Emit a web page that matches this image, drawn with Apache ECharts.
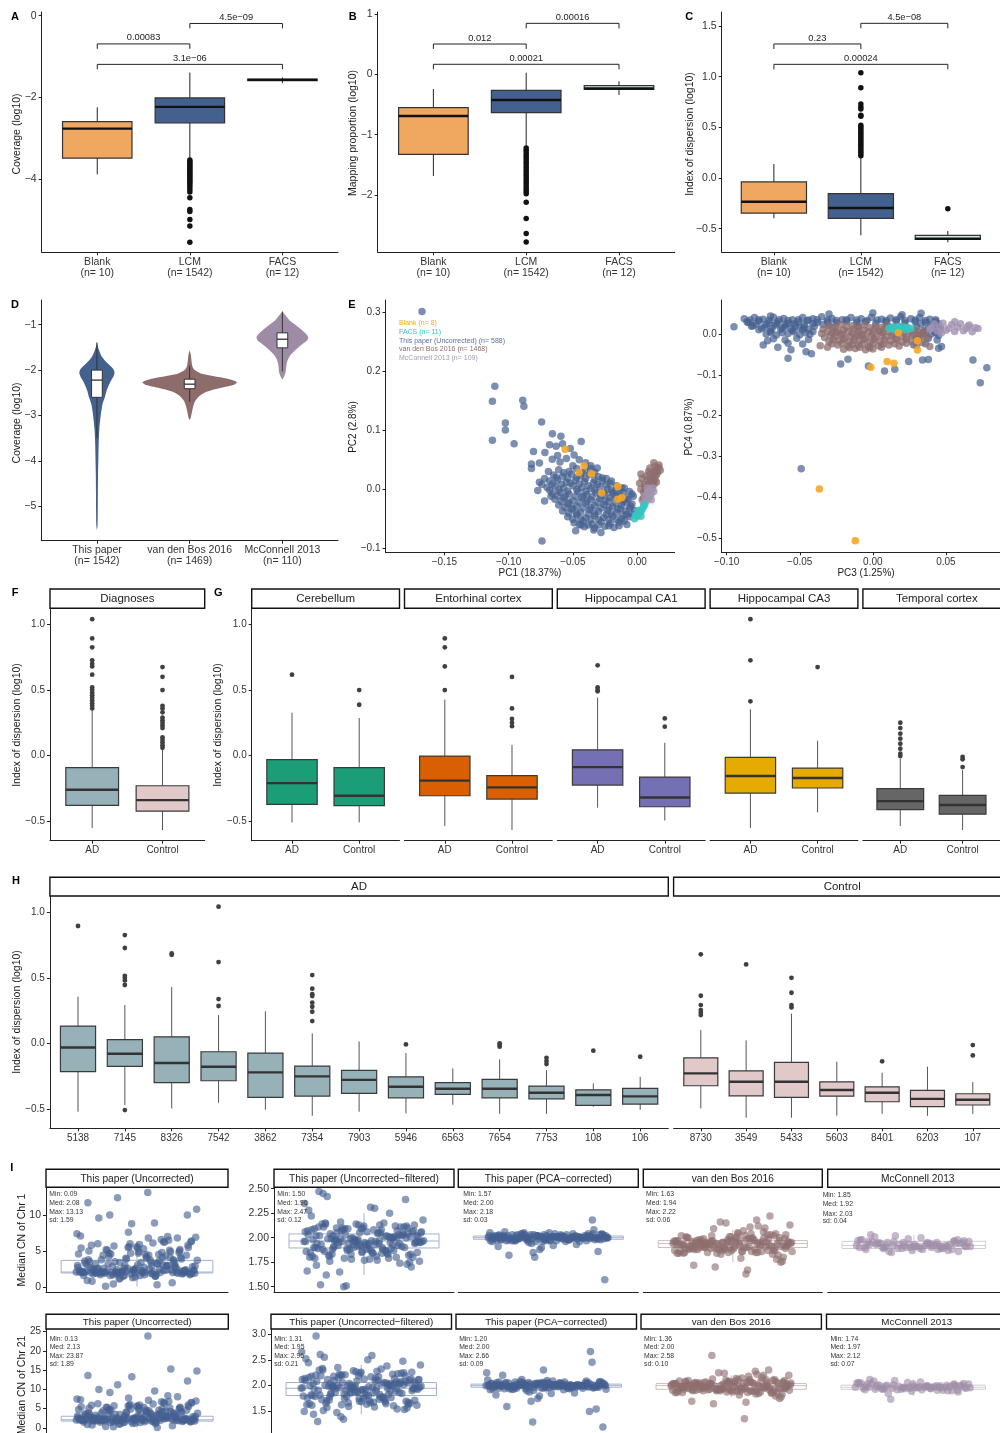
<!DOCTYPE html>
<html><head><meta charset="utf-8"><title>chart</title>
<script src="https://cdn.jsdelivr.net/npm/echarts@6/dist/echarts.min.js"></script>
<style>html,body{margin:0;padding:0;background:#fff;}#c{width:1000px;height:1433px;}</style>
</head><body><div id="c"></div>
<script>
// ================= DATA =================
const abcCats = ['Blank\n(n= 10)', 'LCM\n(n= 1542)', 'FACS\n(n= 12)'];
// [lowerWhisker, Q1, median, Q3, upperWhisker]
const aBox = [[-3.88,-3.48,-2.76,-2.59,-2.24],[-3.51,-2.62,-2.23,-2.01,-1.39],[-1.65,-1.59,-1.57,-1.55,-1.51]];
const aOut = [[2,-3.53],[2,-3.57],[2,-3.61],[2,-3.65],[2,-3.69],[2,-3.73],[2,-3.77],[2,-3.81],[2,-3.85],[2,-3.89],[2,-3.93],[2,-3.97],[2,-4.01],[2,-4.05],[2,-4.09],[2,-4.14],[2,-4.19],[2,-4.25],[2,-4.31],[2,-4.45],[2,-4.74],[2,-4.79],[2,-4.98],[2,-5.14],[2,-5.54]];
const aBrackets = [[1,2,-0.69,-0.81,'0.00083'],[2,3,-0.19,-0.31,'4.5e\u221209'],[1,3,-1.19,-1.31,'3.1e\u221206']];
const bBox = [[-1.686,-1.326,-0.691,-0.553,-0.244],[-1.2,-0.636,-0.426,-0.265,0.027],[-0.343,-0.249,-0.235,-0.189,-0.116]];
const bOut = [[2,-1.22],[2,-1.26],[2,-1.3],[2,-1.34],[2,-1.38],[2,-1.42],[2,-1.46],[2,-1.5],[2,-1.54],[2,-1.58],[2,-1.62],[2,-1.66],[2,-1.7],[2,-1.74],[2,-1.78],[2,-1.82],[2,-1.86],[2,-1.9],[2,-1.94],[2,-1.98],[2,-2.12],[2,-2.39],[2,-2.64],[2,-2.78]];
const bBrackets = [[1,2,0.502,0.42,'0.012'],[2,3,0.845,0.76,'0.00016'],[1,3,0.166,0.083,'0.00021']];
const cBox = [[-0.398,-0.346,-0.234,-0.039,0.138],[-0.566,-0.398,-0.296,-0.155,0.21],[-0.635,-0.605,-0.6,-0.566,-0.523]];
const cOut = [[2,0.22],[2,0.24],[2,0.26],[2,0.28],[2,0.3],[2,0.32],[2,0.34],[2,0.36],[2,0.38],[2,0.4],[2,0.42],[2,0.44],[2,0.46],[2,0.48],[2,0.5],[2,0.52],[2,0.61],[2,0.62],[2,0.68],[2,0.7],[2,0.73],[2,0.89],[2,1.04],[3,-0.303]];
const cBrackets = [[1,2,1.323,1.273,'0.23'],[2,3,1.527,1.478,'4.5e\u221208'],[1,3,1.122,1.073,'0.00024']];

const dCats = ['This paper\n(n= 1542)', 'van den Bos 2016\n(n= 1469)', 'McConnell 2013\n(n= 110)'];
// violin profiles: [y, half-width]
const dViolins = [
  [[-1.39,0],[-1.5,0.013],[-1.6,0.03],[-1.7,0.052],[-1.8,0.09],[-1.9,0.14],[-1.98,0.178],[-2.06,0.19],[-2.14,0.178],[-2.24,0.15],[-2.35,0.124],[-2.45,0.105],[-2.58,0.088],[-2.75,0.06],[-3.0,0.041],[-3.3,0.026],[-3.6,0.019],[-3.9,0.016],[-4.3,0.012],[-4.7,0.01],[-5.1,0.009],[-5.4,0.007],[-5.53,0]],
  [[-1.56,0],[-1.65,0.012],[-1.8,0.02],[-1.92,0.03],[-2.0,0.055],[-2.07,0.115],[-2.12,0.22],[-2.17,0.36],[-2.22,0.46],[-2.27,0.51],[-2.32,0.48],[-2.37,0.38],[-2.43,0.26],[-2.5,0.16],[-2.58,0.1],[-2.68,0.06],[-2.8,0.038],[-2.95,0.022],[-3.05,0.012],[-3.1,0]],
  [[-0.71,0],[-0.8,0.035],[-0.9,0.075],[-1.0,0.14],[-1.1,0.2],[-1.2,0.255],[-1.28,0.279],[-1.36,0.26],[-1.45,0.2],[-1.55,0.144],[-1.65,0.095],[-1.75,0.063],[-1.85,0.047],[-1.95,0.04],[-2.05,0.035],[-2.13,0.022],[-2.21,0]]
];
const dBox = [[-3.5,-2.6,-2.22,-2.0,-1.39],[-2.7,-2.41,-2.31,-2.2,-1.9],[-2.03,-1.51,-1.32,-1.18,-0.71]];

const eLegend = ['Blank (n= 8)','FACS (n= 11)','This paper (Uncorrected) (n= 588)','van den Bos 2016 (n= 1468)','McConnell 2013 (n= 109)'];
// PC1 vs PC2
const eL_paper = [[-0.1674,0.302],[-0.1107,0.175],[-0.1126,0.1495],[-0.089,0.151],[-0.0881,0.141],[-0.1025,0.1126],[-0.1025,0.1006],[-0.1126,0.083],[-0.0957,0.0773],[-0.0743,0.1143],[-0.0659,0.0944],[-0.0593,0.0898],[-0.0435,0.0812],[-0.0681,0.0756],[-0.0806,0.0642],[-0.0717,0.0625],[-0.0619,0.0574],[-0.0822,0.0427],[-0.076,0.0444],[-0.0822,0.0352],[-0.0773,-0.0024],[-0.074,-0.088],[-0.0478,-0.0707],[-0.0435,-0.0609],[-0.0337,-0.0695],[-0.0281,-0.0734],
[-0.063,0.073],[-0.058,0.077],[-0.052,0.069],[-0.066,0.051],[-0.06,0.046],[-0.055,0.052],[-0.049,0.058],[-0.045,0.05],[-0.04,0.045],[-0.036,0.04],[-0.031,0.036],[-0.069,0.03],[-0.072,0.018],[-0.074,0.008],[-0.076,0.012],[-0.067,-0.012],[-0.072,-0.02],
[-0.061,0.033],[-0.053,0.03],[-0.047,0.035],[-0.04,0.031],[-0.033,0.029],
[-0.065,0.024],[-0.058,0.022],[-0.051,0.026],[-0.044,0.023],[-0.037,0.025],[-0.03,0.021],[-0.024,0.018],
[-0.068,0.014],[-0.062,0.016],[-0.055,0.012],[-0.048,0.015],[-0.041,0.013],[-0.034,0.011],[-0.027,0.014],[-0.021,0.01],[-0.016,0.006],
[-0.07,0.003],[-0.064,0.005],[-0.057,0.002],[-0.05,0.006],[-0.043,0.003],[-0.036,0.001],[-0.029,0.004],[-0.023,0.0],[-0.017,-0.003],[-0.011,-0.006],
[-0.066,-0.007],[-0.06,-0.005],[-0.053,-0.008],[-0.046,-0.004],[-0.039,-0.009],[-0.032,-0.006],[-0.025,-0.01],[-0.019,-0.007],[-0.013,-0.012],[-0.008,-0.015],
[-0.064,-0.017],[-0.057,-0.015],[-0.05,-0.019],[-0.043,-0.014],[-0.036,-0.018],[-0.029,-0.016],[-0.022,-0.02],[-0.015,-0.017],[-0.009,-0.022],[-0.004,-0.025],
[-0.061,-0.027],[-0.054,-0.025],[-0.047,-0.029],[-0.04,-0.024],[-0.033,-0.028],[-0.026,-0.026],[-0.019,-0.03],[-0.012,-0.027],[-0.006,-0.032],[-0.002,-0.036],
[-0.058,-0.037],[-0.051,-0.034],[-0.044,-0.039],[-0.037,-0.035],[-0.03,-0.038],[-0.023,-0.036],[-0.016,-0.04],[-0.009,-0.037],[-0.004,-0.042],
[-0.054,-0.047],[-0.047,-0.044],[-0.04,-0.049],[-0.033,-0.045],[-0.026,-0.048],[-0.019,-0.046],[-0.012,-0.05],[-0.006,-0.047],
[-0.049,-0.057],[-0.042,-0.054],[-0.035,-0.059],[-0.028,-0.055],[-0.021,-0.058],[-0.014,-0.056],[-0.008,-0.06],
[-0.041,-0.064],[-0.033,-0.066],[-0.025,-0.063],[-0.018,-0.065],
[-0.057,0.028],[-0.043,0.028],[-0.054,0.019],[-0.04,0.018],[-0.027,0.019],[-0.059,0.009],[-0.045,0.009],[-0.031,0.008],[-0.061,-0.001],[-0.047,-0.001],[-0.033,-0.002],[-0.02,-0.002],[-0.056,-0.012],[-0.042,-0.012],[-0.028,-0.011],[-0.017,-0.012],[-0.053,-0.022],[-0.039,-0.021],[-0.025,-0.021],[-0.011,-0.021],[-0.05,-0.032],[-0.036,-0.031],[-0.022,-0.031],[-0.013,-0.033],[-0.047,-0.041],[-0.033,-0.041],[-0.02,-0.042],[-0.008,-0.043],[-0.044,-0.051],[-0.03,-0.051],[-0.016,-0.052],[-0.038,-0.061],[-0.022,-0.062],[-0.006,-0.004],[-0.01,0.002],[-0.003,-0.012],
[-0.05,0.04],[-0.036,0.035],[-0.063,0.02],[-0.047,0.02],[-0.033,0.016],[-0.02,0.014],[-0.066,0.009],[-0.052,0.01],[-0.038,0.006],[-0.024,0.007],[-0.012,0.002],[-0.068,-0.002],[-0.054,-0.003],[-0.04,-0.004],[-0.026,-0.005],[-0.014,-0.008],[-0.004,-0.008],[-0.062,-0.011],[-0.048,-0.012],[-0.035,-0.013],[-0.021,-0.014],[-0.007,-0.018],[-0.059,-0.021],[-0.045,-0.022],[-0.031,-0.022],[-0.017,-0.024],[-0.005,-0.029],[-0.056,-0.031],[-0.042,-0.032],[-0.028,-0.032],[-0.015,-0.034],[-0.053,-0.041],[-0.038,-0.042],[-0.024,-0.043],[-0.011,-0.044],[-0.05,-0.051],[-0.036,-0.052],[-0.022,-0.052],[-0.01,-0.054],[-0.045,-0.06],[-0.03,-0.061],[-0.014,-0.062]];
const eL_vdb = [[0.004,-0.018],[0.006,-0.012],[0.005,-0.005],[0.008,-0.008],[0.007,0.0],[0.009,0.004],[0.006,0.008],[0.01,0.012],[0.008,0.016],[0.011,0.02],[0.013,0.018],[0.012,0.026],[0.014,0.03],[0.015,0.024],[0.016,0.035],[0.014,0.039],[0.017,0.041],[0.013,0.045],[0.016,0.028],[0.011,0.006],[0.012,0.0],[0.01,-0.004],[0.003,0.026],[0.004,0.018],[0.002,0.01],[0.009,0.03],[0.007,0.022],[0.018,0.032],[0.015,0.012],[0.013,0.008],[0.003,0.0],[0.01,0.036],
[0.005,-0.015],[0.007,-0.003],[0.009,0.008],[0.011,0.015],[0.013,0.022],[0.015,0.032],[0.012,0.012],[0.006,0.004],[0.01,0.026],[0.017,0.037],[0.008,0.0],[0.014,0.016]];
const eL_mcc = [[0.006,-0.012],[0.008,-0.006],[0.01,-0.002],[0.009,-0.016],[0.011,-0.008],[0.007,-0.02],[0.012,0.002],[0.005,-0.024],[0.01,-0.012],[0.013,-0.004],[0.008,0.002],[0.011,-0.018]];
const eL_facs = [[-0.002,-0.05],[0.0,-0.046],[0.001,-0.042],[0.003,-0.038],[0.004,-0.034],[0.002,-0.04],[0.005,-0.03],[-0.001,-0.044],[0.003,-0.046],[0.006,-0.026],[0.001,-0.036]];
const eL_blank = [[-0.056,0.068],[-0.0413,0.04],[-0.0451,0.0284],[-0.0356,0.0261],[-0.0275,-0.0063],[-0.015,0.0045],[-0.015,-0.0171],[-0.0118,-0.0143]];
// PC3 vs PC4
const eR_paper = [[-0.088,0.038],[-0.081,0.041],[-0.075,0.037],[-0.068,0.042],[-0.061,0.039],[-0.055,0.036],[-0.048,0.041],[-0.041,0.038],[-0.035,0.043],[-0.028,0.039],[-0.021,0.036],[-0.015,0.041],[-0.008,0.038],[-0.001,0.042],[0.006,0.037],[0.012,0.04],[0.019,0.043],[0.026,0.038],[0.032,0.041],[0.039,0.037],
[-0.085,0.029],[-0.078,0.032],[-0.071,0.028],[-0.065,0.031],[-0.058,0.027],[-0.051,0.03],[-0.045,0.033],[-0.038,0.029],[-0.031,0.031],[-0.025,0.028],[-0.018,0.032],[-0.011,0.029],[-0.005,0.031],[0.002,0.027],[0.009,0.03],[0.016,0.032],[0.022,0.028],[0.029,0.031],[0.036,0.029],[0.043,0.032],
[-0.082,0.021],[-0.074,0.018],[-0.067,0.022],[-0.06,0.019],[-0.053,0.021],[-0.047,0.017],[-0.04,0.02],[-0.03,0.022],[-0.01,0.019],[0.01,0.021],[0.03,0.018],[0.041,0.021],[0.046,0.017],
[-0.078,0.011],[-0.07,0.008],[-0.063,0.012],[-0.055,0.009],[-0.048,0.011],[-0.041,0.007],[0.035,0.01],[0.042,0.008],[0.046,0.012],
[-0.073,0.001],[-0.066,-0.002],[-0.058,0.002],[-0.05,-0.001],[-0.043,0.0],[0.032,-0.002],[0.04,0.001],[0.045,-0.003],
[-0.068,-0.011],[-0.06,-0.014],[-0.052,-0.01],[-0.044,-0.013],[0.03,-0.012],[0.038,-0.01],[0.044,-0.014],
[-0.048,-0.024],[0.028,-0.026],[0.036,-0.023],
[-0.084,0.035],[-0.078,0.036],[-0.071,0.034],[-0.064,0.036],[-0.058,0.034],[-0.051,0.036],[-0.044,0.035],[-0.038,0.036],[-0.031,0.035],[-0.025,0.034],[-0.018,0.036],[-0.011,0.035],[-0.004,0.034],[0.003,0.035],[0.009,0.034],[0.016,0.036],[0.022,0.034],[0.029,0.035],[0.036,0.034],[0.043,0.036],
[-0.08,0.025],[-0.073,0.024],[-0.066,0.026],[-0.06,0.024],[-0.054,0.025],[-0.047,0.024],[-0.041,0.026],[-0.034,0.024],[0.033,0.025],[0.04,0.024],[0.045,0.026],
[-0.076,0.015],[-0.069,0.014],[-0.062,0.016],[-0.056,0.014],[-0.05,0.016],[-0.044,0.013],[0.038,0.015],[0.044,0.014],
[-0.07,0.005],[-0.062,0.004],[-0.054,0.006],[-0.046,0.004],[0.036,0.005],[0.043,0.004],
[-0.095,0.0187],[-0.049,-0.33],[0.0685,-0.063],[0.078,-0.082],[0.0735,-0.119],[-0.058,-0.059],[-0.075,-0.026],[-0.072,-0.016],[-0.065,-0.032],[-0.058,-0.022],[-0.056,-0.038],[-0.0457,-0.043],[-0.042,-0.048],[-0.022,-0.073],[-0.017,-0.061],[-0.003,-0.078],[0.008,-0.09],[0.015,-0.086],[0.0245,-0.067],[0.034,-0.063],[0.038,-0.062],[0.045,-0.034],[0.047,-0.03],[0.0,0.052],[0.033,0.0515],[-0.083,0.02],[-0.086,0.03],[-0.07,0.045],[-0.03,0.05],[0.02,0.048]];
const eR_vdb = [[-0.03,0.022],[-0.022,0.024],[-0.014,0.021],[-0.006,0.023],[0.002,0.02],[0.01,0.022],[0.018,0.019],
[-0.034,0.012],[-0.027,0.014],[-0.02,0.011],[-0.013,0.013],[-0.006,0.01],[0.001,0.012],[0.008,0.014],[0.015,0.011],[0.022,0.013],[0.029,0.01],
[-0.035,0.002],[-0.028,0.004],[-0.021,0.001],[-0.014,0.003],[-0.007,0.0],[0.0,0.002],[0.007,0.004],[0.014,0.001],[0.021,0.003],[0.028,0.0],[0.034,0.002],
[-0.033,-0.008],[-0.026,-0.006],[-0.019,-0.009],[-0.012,-0.007],[-0.005,-0.01],[0.002,-0.008],[0.009,-0.006],[0.016,-0.009],[0.023,-0.007],[0.03,-0.01],[0.037,-0.008],
[-0.03,-0.018],[-0.023,-0.016],[-0.016,-0.019],[-0.009,-0.017],[-0.002,-0.02],[0.005,-0.018],[0.012,-0.016],[0.02,-0.019],[0.027,-0.017],[0.034,-0.02],
[-0.036,-0.028],[-0.024,-0.026],[-0.017,-0.029],[-0.01,-0.027],[-0.003,-0.03],[0.004,-0.028],[0.011,-0.026],[0.018,-0.029],[0.03,-0.027],
[-0.02,-0.037],[-0.012,-0.035],[-0.005,-0.038],[0.0,-0.036],
[-0.031,-0.032],[0.039,-0.03],[0.035,0.006],[-0.025,0.005],[-0.01,-0.001],[0.005,0.007],
[-0.026,0.017],[-0.018,0.018],[-0.01,0.017],[-0.002,0.016],[0.006,0.017],[0.014,0.016],[0.022,0.018],
[-0.031,0.007],[-0.024,0.008],[-0.017,0.006],[-0.01,0.007],[-0.003,0.006],[0.004,0.008],[0.011,0.007],[0.018,0.006],[0.025,0.007],[0.031,0.006],
[-0.029,-0.003],[-0.022,-0.002],[-0.015,-0.004],[-0.008,-0.003],[-0.001,-0.004],[0.006,-0.002],[0.013,-0.003],[0.02,-0.004],[0.027,-0.002],[0.034,-0.004],
[-0.027,-0.013],[-0.02,-0.012],[-0.013,-0.014],[-0.006,-0.013],[0.001,-0.012],[0.008,-0.014],[0.016,-0.013],[0.023,-0.012],[0.031,-0.014],
[-0.028,-0.023],[-0.021,-0.022],[-0.014,-0.024],[-0.007,-0.023],[0.0,-0.022],[0.007,-0.024],[0.015,-0.023],[0.023,-0.022],
[-0.016,-0.033],[-0.009,-0.032],[-0.002,-0.033],[0.006,-0.032]];
const eR_mcc = [[0.042,0.025],[0.048,0.027],[0.054,0.024],[0.06,0.026],[0.066,0.023],[0.04,0.016],[0.046,0.018],[0.052,0.015],[0.058,0.017],[0.064,0.014],[0.07,0.016],[0.044,0.008],[0.05,0.01],[0.056,0.007],[0.062,0.009],[0.068,0.006],[0.072,0.014],[0.056,0.031],[0.039,0.012],[0.047,0.004],[0.065,0.02]];
const eR_facs = [[0.011,0.015],[0.013,0.018],[0.015,0.013],[0.017,0.017],[0.019,0.014],[0.021,0.018],[0.022,0.012],[0.024,0.016],[0.026,0.014],[0.018,0.019],[0.014,0.012]];
const eR_blank = [[0.0175,0.004],[0.0305,-0.0157],[0.0305,-0.0385],[0.0098,-0.067],[0.0144,-0.071],[-0.0014,-0.081],[-0.0366,-0.38],[-0.012,-0.507]];

const fgCats = ['AD','Control'];
const fBox = [[-0.551,-0.379,-0.259,-0.091,0.345],[-0.566,-0.422,-0.338,-0.229,0.045]];
const fOut = [[1,0.36],[1,0.38],[1,0.4],[1,0.42],[1,0.44],[1,0.46],[1,0.48],[1,0.5],[1,0.52],[1,0.617],[1,0.68],[1,0.7],[1,0.726],[1,0.825],[1,0.893],[1,1.04],[2,0.06],[2,0.08],[2,0.1],[2,0.12],[2,0.14],[2,0.21],[2,0.23],[2,0.25],[2,0.27],[2,0.29],[2,0.33],[2,0.36],[2,0.38],[2,0.5],[2,0.601],[2,0.675]];
const gTissues = ['Cerebellum','Entorhinal cortex','Hippocampal CA1','Hippocampal CA3','Temporal cortex'];
const gBox = [
  [[-0.508,-0.371,-0.209,-0.03,0.327],[-0.508,-0.381,-0.305,-0.091,0.287]],
  [[-0.536,-0.305,-0.19,-0.003,0.427],[-0.566,-0.33,-0.241,-0.152,0.081]],
  [[-0.396,-0.224,-0.087,0.045,0.442],[-0.493,-0.389,-0.318,-0.163,0.099]],
  [[-0.551,-0.285,-0.155,-0.013,0.353],[-0.432,-0.246,-0.17,-0.094,0.114]],
  [[-0.536,-0.411,-0.346,-0.251,-0.023],[-0.566,-0.445,-0.376,-0.302,-0.11]]
];
const gOut = [
  [[1,0.617],[2,0.5],[2,0.388]],
  [[1,0.5],[1,0.68],[1,0.825],[1,0.893],[2,0.225],[2,0.25],[2,0.28],[2,0.36],[2,0.6]],
  [[1,0.49],[1,0.5],[1,0.52],[1,0.688],[2,0.221],[2,0.284]],
  [[1,0.414],[1,0.726],[1,1.04],[2,0.675]],
  [[1,-0.003],[1,0.015],[1,0.053],[1,0.091],[1,0.13],[1,0.168],[1,0.21],[1,0.251],[2,-0.087],[2,-0.028],[2,-0.01]]
];

const hADcats = ['5138','7145','8326','7542','3862','7354','7903','5946','6563','7654','7753','108','106'];
const hADbox = [[-0.521,-0.216,-0.031,0.132,0.356],[-0.47,-0.176,-0.079,0.028,0.292],[-0.496,-0.3,-0.15,0.05,0.43],[-0.453,-0.285,-0.178,-0.064,0.216],[-0.506,-0.412,-0.221,-0.074,0.244],[-0.552,-0.402,-0.252,-0.173,0.076],[-0.521,-0.381,-0.278,-0.206,0.015],[-0.534,-0.415,-0.331,-0.255,-0.074],[-0.468,-0.389,-0.346,-0.3,-0.191],[-0.537,-0.415,-0.346,-0.275,-0.122],[-0.537,-0.423,-0.377,-0.326,-0.204],[-0.483,-0.473,-0.394,-0.354,-0.305],[-0.506,-0.463,-0.404,-0.343,-0.255]];
const hADout = [[1,0.895],[2,-0.509],[2,0.445],[2,0.48],[2,0.5],[2,0.515],[2,0.727],[2,0.826],[3,0.686],[3,0.675],[4,0.285],[4,0.338],[4,0.62],[4,1.042],[6,0.17],[6,0.241],[6,0.279],[6,0.31],[6,0.361],[6,0.375],[6,0.417],[6,0.521],[8,-0.008],[10,0.0],[10,-0.012],[10,-0.025],[11,-0.11],[11,-0.135],[11,-0.158],[12,-0.056],[13,-0.102]];
const hCcats = ['8730','3549','5433','5603','8401','6203','107'];
const hCbox = [[-0.496,-0.323,-0.229,-0.11,0.101],[-0.567,-0.4,-0.293,-0.209,0.023],[-0.567,-0.412,-0.293,-0.145,0.226],[-0.552,-0.402,-0.356,-0.293,-0.14],[-0.537,-0.445,-0.377,-0.331,-0.224],[-0.552,-0.483,-0.423,-0.359,-0.178],[-0.537,-0.47,-0.43,-0.384,-0.295]];
const hCout = [[1,0.679],[1,0.363],[1,0.292],[1,0.254],[1,0.234],[1,0.216],[2,0.602],[3,0.5],[3,0.386],[3,0.292],[3,0.274],[5,-0.137],[7,-0.013],[7,-0.092]];

const iTitles = ['This paper (Uncorrected)','This paper (Uncorrected\u2212filtered)','This paper (PCA\u2212corrected)','van den Bos 2016','McConnell 2013'];
const cn1 = [
 [2.1,3.4,1.9,5.2,2.3,0.9,4.1,2.0,6.3,1.7,2.6,3.8,2.2,7.1,1.5,4.7,2.0,3.1,5.8,2.4,1.2,2.9,4.4,2.1,6.8,1.8,3.6,2.5,0.4,5.5,2.0,3.2,4.9,1.6,2.7,6.1,2.2,3.9,1.4,5.0,2.3,12.4,2.8,4.2,1.9,3.3,7.6,2.1,0.3,4.6,2.4,5.9,1.8,3.0,2.0,10.8,3.7,2.6,4.8,1.3,2.2,6.6,3.5,1.7,5.3,2.5,0.6,4.0,2.1,8.9,3.2,1.9,5.6,2.7,4.3,1.1,2.3,13.13,3.8,2.0,6.0,1.6,4.5,2.8,10.0,3.4,2.2,5.1,1.5,7.4,2.9,0.09,4.1,2.4,11.7,3.1,1.8,6.4,2.0,9.6,3.6,2.6,5.4,1.7,10.0,2.3,4.7,0.8,3.0,2.1,6.9,2.5,4.4,1.9,8.8,3.3,2.0,5.7,
  2.0,2.2,1.9,2.4,3.0,4.6,2.1,5.1,1.8,2.6,3.5,6.2,2.0,2.3,4.0,1.7,2.8,5.6,2.1,3.2,2.0,4.4,1.6,2.5,6.5,2.2,3.7,1.9,2.0,5.0,2.4,3.1,4.8,2.1,1.8,2.7,6.0,2.0,3.9,2.3,1.5,4.2,2.2,5.4,2.0,2.9,3.4,1.9,6.8,2.1,2.5,4.7,2.0,3.6,1.7,5.8,2.3,2.0,4.1,2.6,3.0,1.8,5.2,2.2,2.0,3.8,6.3,2.4,1.9,4.5,2.1,2.8,5.5,2.0,3.3,1.6,2.2,4.9,2.5,7.0],
 [1.96,2.05,1.88,2.12,1.92,1.79,2.01,2.08,1.85,1.97,2.14,1.74,1.99,2.03,1.9,2.1,1.83,1.95,2.47,2.0,1.87,2.06,1.93,1.76,2.11,1.98,1.81,2.02,2.16,1.94,1.89,2.45,2.07,1.78,1.96,2.13,1.91,2.04,1.86,1.72,2.0,2.09,1.95,1.84,2.42,2.02,1.97,1.8,2.15,1.92,2.06,1.88,1.52,2.01,1.94,2.18,1.77,1.99,2.39,2.05,1.9,1.83,2.1,1.96,2.31,1.86,2.03,1.93,1.66,2.08,1.98,1.75,2.12,1.89,2.0,1.51,1.95,2.3,1.82,2.04,1.97,2.22,1.87,1.65,2.07,1.92,2.14,1.8,1.99,2.35,1.94,2.02,1.73,2.09,1.9,2.25,1.5,2.01,1.85,1.62,2.11,1.96,2.28,1.88,2.05,1.7,
  1.93,2.02,1.87,2.09,1.96,1.81,2.04,1.9,2.13,1.98,1.84,2.07,1.95,1.78,2.11,1.92,2.0,1.86,2.05,1.97,1.82,2.1,1.94,1.89,2.03,1.76,2.08,1.99,1.91,2.14,1.85,2.01,1.95,1.8,2.06,1.93,2.12,1.88,1.97,2.04,1.83,2.0,1.92,2.09,1.79,1.96,2.02,1.87,2.15,1.94,1.9,2.07,1.84,1.98,2.01,1.77,2.11,1.93,1.89,2.05,1.96,1.81,2.03,1.91,2.08,1.86,1.99,2.13,1.94,1.88,2.0,1.83,2.06,1.97,1.9,2.1,1.85,2.02,1.95,1.79],
 [2.0,2.01,1.99,2.02,1.98,2.03,2.0,1.97,2.04,2.01,1.99,2.0,2.02,1.96,2.03,2.0,1.98,2.05,2.01,1.99,1.94,2.02,2.0,1.97,2.04,2.01,1.98,2.0,2.03,1.99,1.92,2.02,2.0,1.96,2.05,2.01,1.99,2.18,2.02,1.98,2.0,1.95,2.03,2.01,1.97,2.0,1.88,2.02,1.99,2.04,2.0,1.98,2.06,2.01,1.85,2.0,2.02,1.97,1.99,2.03,1.91,2.01,2.0,1.98,2.04,1.82,2.0,2.02,1.99,1.96,2.01,2.08,1.98,2.0,1.93,2.03,1.57,2.01,1.99,2.02,1.9,2.0,1.98,2.05,1.86,2.01,1.97,2.0,1.8,2.02,1.99,2.03,
  2.0,1.98,2.02,2.01,1.99,2.03,1.97,2.0,2.02,1.99,2.01,1.98,2.04,2.0,1.97,2.02,2.01,1.99,2.0,2.03,1.98,2.01,1.96,2.02,2.0,1.99,2.03,2.01,1.98,2.0,2.02,1.97,2.01,1.99,2.04,2.0,1.98,2.02,2.01,1.99,2.0,2.03,1.97,2.01,2.0,1.98,2.02,1.99,2.01,2.0,1.96,2.03,2.0,1.99,2.02,2.01,1.98,2.0,2.04,1.99],
 [1.94,1.9,1.98,1.87,2.01,1.93,1.85,1.96,2.03,1.91,1.88,1.99,1.95,1.84,2.04,1.92,1.97,1.89,2.0,1.86,1.94,2.13,1.9,1.98,1.83,1.95,2.02,1.88,1.93,1.8,2.05,1.96,1.91,2.16,1.87,1.99,1.94,1.78,2.01,1.89,1.95,2.09,1.92,1.86,1.97,2.22,1.9,1.84,2.0,1.93,1.75,1.98,1.91,2.06,1.88,1.95,1.63,1.96,2.02,1.85,1.92,2.18,1.89,1.99,1.94,1.72,2.03,1.87,1.96,2.11,1.9,1.82,1.97,2.0,1.93,1.7,1.95,2.07,1.88,1.91,2.15,1.86,1.98,1.94,1.76,2.01,1.92,2.1,1.89,1.96,1.67,1.93,2.04,1.9,1.85,2.12,1.97,1.91,1.79,1.95,
  1.93,1.89,1.97,1.86,1.95,2.0,1.91,1.88,1.96,1.84,1.94,2.02,1.9,1.87,1.98,1.93,1.85,1.96,1.92,2.04,1.89,1.95,1.83,1.97,1.91,1.99,1.94,1.87,2.01,1.92,1.9,1.96,1.86,1.94,2.03,1.88,1.93,1.97,1.85,1.91,1.95,1.89,2.0,1.93,1.86,1.98,1.92,1.9,1.96,1.84,1.94,2.02,1.89,1.97,1.91,1.87,1.95,1.93,1.99,1.9],
 [1.92,1.95,1.89,1.97,1.9,1.93,1.88,1.96,1.91,2.0,1.94,1.87,1.92,1.98,1.9,1.95,1.86,1.93,2.03,1.91,1.89,1.96,1.92,1.94,1.88,1.99,1.9,1.93,1.85,1.95,1.91,2.01,1.92,1.89,1.97,1.93,1.9,1.94,1.87,1.96,1.92,2.02,1.91,1.88,1.95,1.93,1.9,1.98,1.92,1.86,1.94,1.91,1.96,1.89,1.93,
  1.91,1.94,1.9,1.96,1.93,1.88,1.95,1.92,1.97,1.89,1.93,1.91,1.95,1.9,1.94,1.92,1.98,1.91,1.93,1.89]
];
const cn21 = [
 [2.1,3.5,1.8,5.4,2.4,0.9,4.2,2.0,6.6,1.6,2.8,3.9,2.2,7.3,1.4,4.8,2.1,3.2,5.9,2.5,1.1,3.0,4.5,2.2,8.1,1.7,3.7,2.6,0.3,5.6,2.0,3.3,15.3,1.5,2.7,6.2,2.3,4.0,1.3,5.1,2.4,11.2,2.9,4.3,1.9,3.4,7.8,2.1,0.13,4.7,2.5,6.0,1.8,3.1,2.0,14.8,3.8,2.6,4.9,1.2,2.2,6.8,3.6,1.6,5.4,2.4,0.6,4.1,2.1,9.6,3.3,1.9,5.7,2.7,4.4,1.0,2.3,23.87,3.9,2.0,6.1,1.5,4.6,2.8,12.2,3.5,2.2,5.2,1.4,7.5,2.9,0.4,4.2,2.4,13.6,3.2,1.8,6.5,2.0,10.0,3.7,2.6,5.5,1.7,9.2,2.3,4.8,0.8,3.0,2.1,7.0,2.5,4.5,1.9,13.3,3.4,2.0,5.8,
  2.0,2.3,1.8,2.5,3.1,4.8,2.1,5.3,1.7,2.7,3.6,6.4,2.0,2.4,4.1,1.5,2.9,5.8,2.2,3.3,2.0,4.6,1.4,2.6,6.9,2.3,3.8,1.9,2.1,5.2,2.5,3.2,5.0,2.0,1.6,2.8,6.3,2.1,4.0,2.4,1.2,4.4,2.2,5.6,2.0,3.0,3.5,1.8,7.2,2.1,2.6,4.9,2.0,3.7,1.6,6.0,2.3,2.1,4.3,2.7,3.1,1.7,5.4,2.2,2.0,3.9,6.6,2.5,1.9,4.7,2.1,2.9,5.7,2.0,3.4,1.5,2.3,5.1,2.6,8.4],
 [1.95,2.15,1.78,2.25,1.88,1.62,2.05,2.2,1.72,1.98,2.3,1.55,2.01,2.1,1.83,2.18,1.68,1.92,2.96,2.04,1.75,2.12,1.86,1.58,2.24,1.99,1.65,2.06,2.35,1.9,1.8,2.6,2.14,1.6,1.96,2.28,1.84,2.08,1.7,1.45,2.02,2.2,1.94,1.67,2.55,2.03,1.97,1.63,2.32,1.87,2.11,1.76,1.31,2.0,1.91,2.4,1.59,1.99,2.47,2.09,1.82,1.69,2.22,1.95,2.5,1.73,2.07,1.88,1.5,2.17,1.98,1.57,2.26,1.79,2.01,1.35,1.93,2.58,1.66,2.05,1.96,2.44,1.77,1.48,2.13,1.85,2.3,1.61,1.99,2.65,1.9,2.04,1.54,2.19,1.81,2.38,1.4,2.02,1.71,1.52,2.23,1.94,2.52,1.78,2.1,1.64,
  1.92,2.08,1.77,2.21,1.97,1.68,2.12,1.85,2.27,2.0,1.73,2.15,1.94,1.64,2.19,1.89,2.04,1.8,2.1,1.98,1.7,2.24,1.93,1.83,2.06,1.62,2.17,2.01,1.87,2.29,1.76,2.03,1.95,1.66,2.13,1.91,2.22,1.79,1.99,2.09,1.72,2.02,1.88,2.18,1.65,1.96,2.07,1.81,2.33,1.94,1.86,2.14,1.74,1.98,2.05,1.69,2.2,1.9,1.84,2.11,1.97,1.71,2.08,1.88,2.16,1.78,2.0,2.26,1.93,1.82,2.03,1.67,2.12,1.96,1.85,2.19,1.75,2.04,1.95,1.63],
 [2.0,2.03,1.97,2.05,1.95,2.06,2.01,1.94,2.08,2.02,1.98,2.0,2.04,1.92,2.07,2.01,1.96,2.1,2.02,1.99,1.88,2.04,2.0,1.93,2.09,2.03,1.97,2.0,2.06,1.98,1.85,2.04,2.01,1.91,2.11,2.02,1.98,2.66,2.05,1.95,2.0,1.9,2.07,2.02,1.94,2.0,1.75,2.04,1.99,2.08,2.01,1.96,2.2,2.02,1.7,2.0,2.05,1.93,1.98,2.06,1.82,2.02,2.01,1.97,2.09,1.6,2.0,2.04,1.99,1.92,2.03,2.45,1.96,2.0,1.86,2.06,1.2,2.02,1.98,2.05,1.8,2.0,1.95,2.12,1.55,2.03,1.94,2.0,1.3,2.25,1.99,2.07,1.5,2.3,
  2.0,1.97,2.03,2.01,1.98,2.05,1.95,2.02,2.04,1.99,2.01,1.96,2.06,2.0,1.97,2.03,2.02,1.98,2.0,2.05,1.96,2.02,1.94,2.04,2.01,1.99,2.06,2.0,1.97,2.01,2.03,1.95,2.02,1.98,2.07,2.0,1.97,2.04,2.01,1.98,2.0,2.05,1.94,2.02,2.01,1.97,2.03,1.99,2.02,2.0,1.93,2.05,2.01,1.98,2.04,2.02,1.96,2.0,2.06,1.99],
 [2.0,1.95,2.05,1.92,2.08,1.97,1.89,2.03,2.1,1.94,1.9,2.06,2.01,1.87,2.12,1.96,2.04,1.91,2.07,1.88,2.0,2.2,1.93,2.05,1.86,1.99,2.09,1.9,1.98,1.84,2.14,2.02,1.95,2.25,1.91,2.06,2.0,1.8,2.08,1.93,2.01,2.58,1.97,1.89,2.04,2.3,1.94,1.87,2.07,1.99,1.75,2.05,1.96,2.16,1.92,2.02,1.36,2.03,2.1,1.88,1.98,2.28,1.93,2.06,2.0,1.7,2.11,1.9,2.03,2.18,1.95,1.85,2.04,2.08,1.97,1.65,2.01,2.15,1.91,1.96,2.24,1.89,2.05,1.99,1.78,2.09,1.94,2.2,1.92,2.02,1.68,1.98,2.12,1.93,1.87,2.22,2.04,1.95,1.82,2.0,
  1.98,1.93,2.04,1.9,2.06,1.96,1.88,2.02,2.09,1.94,1.91,2.05,2.0,1.86,2.11,1.95,2.03,1.92,2.07,1.89,2.01,1.97,1.93,2.04,1.87,1.99,2.08,1.91,1.98,1.85,2.13,2.01,1.96,2.06,1.92,2.03,1.99,1.89,2.07,1.94,2.0,2.1,1.97,1.9,2.05,1.96,1.93,1.88,2.06,1.98,1.84,2.04,1.95,2.12,1.92,2.01,1.94,2.03,2.08,1.9],
 [1.97,2.0,1.93,2.03,1.95,1.99,1.91,2.02,1.96,2.07,1.98,1.9,1.97,2.04,1.94,2.01,1.88,1.99,2.12,1.96,1.92,2.03,1.97,2.0,1.9,2.06,1.95,1.98,1.74,2.01,1.96,2.09,1.97,1.93,2.05,1.99,1.94,2.0,1.89,2.03,1.97,2.1,1.95,1.92,2.02,1.98,1.94,2.05,1.97,1.85,2.0,1.96,2.04,1.91,1.99,
  1.96,1.99,1.94,2.02,1.97,1.92,2.0,1.95,2.04,1.98,1.93,2.01,1.96,2.06,1.95,1.99,1.91,2.03,1.97,2.0]
];
const cn1Box = [[0.09,1.95,2.08,3.7,6.3],[1.62,1.895,1.966,2.038,2.25],[1.93,1.984,2.0,2.017,2.07],[1.75,1.9,1.94,1.97,2.08],[1.85,1.89,1.92,1.963,2.03]];
const cn21Box = [[0.13,1.8,2.13,3.05,6.0],[1.45,1.81,1.95,2.06,2.4],[1.85,1.97,2.0,2.03,2.12],[1.78,1.93,2.0,2.04,2.2],[1.8,1.93,1.97,2.01,2.12]];
const cn1Stats = [['Min: 0.09','Med: 2.08','Max: 13.13','sd: 1.59'],['Min: 1.50','Med: 1.96','Max: 2.47','sd: 0.12'],['Min: 1.57','Med: 2.00','Max: 2.18','sd: 0.03'],['Min: 1.63','Med: 1.94','Max: 2.22','sd: 0.06'],['Min: 1.85','Med: 1.92','Max: 2.03','sd: 0.04']];
const cn21Stats = [['Min: 0.13','Med: 2.13','Max: 23.87','sd: 1.89'],['Min: 1.31','Med: 1.95','Max: 2.96','sd: 0.21'],['Min: 1.20','Med: 2.00','Max: 2.66','sd: 0.09'],['Min: 1.36','Med: 2.00','Max: 2.58','sd: 0.10'],['Min: 1.74','Med: 1.97','Max: 2.12','sd: 0.07']];

// ================= STYLE / BUILD =================
const FONT = '"Liberation Sans", Arial, Helvetica, sans-serif';
const AXC = '#222', LBL = '#333';
const BLUE = '#44608F', VDB = '#8E6E6D', MCC = '#9E8EA8';
const grids = [], xAxes = [], yAxes = [], series = [], graphics = [];

function fmt(d) { return v => (v < -1e-9 ? '\u2212' : '') + Math.abs(v).toFixed(d); }
function catFmt(cats) { return v => cats[Math.round(v) - 1]; }
function range(n) { const r = []; for (let i = 1; i <= n; i++) r.push(i); return r; }

function addGrid(o) {
  const i = grids.length;
  grids.push({ left: o.l, top: o.t, width: o.w, height: o.h, containLabel: false });
  xAxes.push({ type: 'value', gridIndex: i, min: o.x[0], max: o.x[1], splitLine: { show: false },
    axisLine: { show: o.xLine !== false, onZero: false, lineStyle: { color: AXC, width: 1 } },
    axisTick: { show: !!o.xt, customValues: o.xt, length: 3, lineStyle: { color: AXC, width: 1 } },
    axisLabel: { show: !!o.xt, customValues: o.xt, formatter: o.xf, color: LBL, fontSize: o.xfs || 10.5, fontFamily: FONT, margin: o.xm || 4, lineHeight: o.lh || 11 } });
  yAxes.push({ type: 'value', gridIndex: i, min: o.y[0], max: o.y[1], splitLine: { show: false },
    axisLine: { show: o.yLine !== false, onZero: false, lineStyle: { color: AXC, width: 1 } },
    axisTick: { show: !!o.yt, customValues: o.yt, length: 3, lineStyle: { color: AXC, width: 1 } },
    axisLabel: { show: !!o.yt, customValues: o.yt, formatter: o.yf, color: LBL, fontSize: o.yfs || 10.5, fontFamily: FONT, margin: o.ym || 5 } });
  return i;
}

function boxSeries(gi, boxes, fills, st, xs) {
  series.push({ type: 'custom', xAxisIndex: gi, yAxisIndex: gi, z: st.z || 3, silent: true,
    data: boxes.map((b, k) => [xs ? xs[k] : k + 1].concat(b)),
    renderItem: function (p, api) {
      const x = api.value(0), lo = api.value(1), q1 = api.value(2), md = api.value(3), q3 = api.value(4), hi = api.value(5);
      const hw = st.hw;
      const a = api.coord([x, hi]), b = api.coord([x, q3]), c = api.coord([x, q1]), d = api.coord([x, lo]);
      const L = api.coord([x - hw, md])[0], R = api.coord([x + hw, md])[0], ym = api.coord([x, md])[1];
      const wc = st.wc || st.stroke;
      return { type: 'group', children: [
        { type: 'line', shape: { x1: a[0], y1: a[1], x2: b[0], y2: b[1] }, style: { stroke: wc, lineWidth: st.wl || 1 } },
        { type: 'line', shape: { x1: c[0], y1: c[1], x2: d[0], y2: d[1] }, style: { stroke: wc, lineWidth: st.wl || 1 } },
        { type: 'rect', shape: { x: L, y: b[1], width: R - L, height: c[1] - b[1] }, style: { fill: fills[p.dataIndex % fills.length], stroke: st.stroke, lineWidth: st.lw } },
        { type: 'line', shape: { x1: L, y1: ym, x2: R, y2: ym }, style: { stroke: st.mc, lineWidth: st.ml } }
      ] };
    } });
}
function ptSeries(gi, pts, color, size, opacity, z) {
  series.push({ type: 'scatter', xAxisIndex: gi, yAxisIndex: gi, data: pts, symbolSize: size, silent: true,
    itemStyle: { color: color, opacity: opacity }, z: z || 4 });
}
function bracketSeries(gi, br) {
  series.push({ type: 'custom', xAxisIndex: gi, yAxisIndex: gi, z: 5, silent: true,
    data: br.map(b => [b[0], b[2], b[1], b[3]]),
    renderItem: function (p, api) {
      const x1 = api.value(0), y = api.value(1), x2 = api.value(2), yt = api.value(3);
      const a = api.coord([x1, yt]), b = api.coord([x1, y]), c = api.coord([x2, y]), d = api.coord([x2, yt]);
      return { type: 'group', children: [
        { type: 'polyline', shape: { points: [a, b, c, d] }, style: { stroke: '#222', lineWidth: 1, fill: null } },
        { type: 'text', x: (b[0] + c[0]) / 2, y: b[1] - 1.5, style: { text: br[p.dataIndex][4], fill: '#222', fontSize: 9.3, fontFamily: FONT, align: 'center', verticalAlign: 'bottom', textAlign: 'center', textVerticalAlign: 'bottom' } }
      ] };
    } });
}
function txt(x, y, s, o) {
  o = o || {};
  graphics.push({ type: 'text', x: x, y: y, rotation: o.rot || 0, z: 100, silent: true,
    style: { text: s, fill: o.c || '#1a1a1a', fontSize: o.fs || 10.5, fontFamily: FONT, fontWeight: o.b ? 'bold' : 'normal',
      align: o.a || 'left', verticalAlign: o.v || 'middle', textAlign: o.a || 'left', textVerticalAlign: o.v || 'middle' } });
}
function strip(x1, x2, y1, y2, label, fs) {
  graphics.push({ type: 'rect', z: 90, silent: true, shape: { x: x1, y: y1, width: x2 - x1, height: y2 - y1 }, style: { fill: '#fff', stroke: '#111', lineWidth: 1.4 } });
  txt((x1 + x2) / 2, (y1 + y2) / 2 + 0.5, label, { a: 'center', fs: fs || 11.5, c: '#222' });
}

// ---- A, B, C ----
const abcStyle = { hw: 0.375, stroke: '#333', lw: 1.2, wc: '#222', wl: 1, mc: '#111', ml: 2.4 };
const abcFill = ['#F0A860', BLUE, '#CFECE9'];
const gA = addGrid({ l: 41.7, t: 12, w: 296.3, h: 240.3, x: [0.4, 3.6], y: [-5.785, 0.0905], xt: [1, 2, 3], xf: catFmt(abcCats), yt: [-4, -2, 0], yf: fmt(0) });
boxSeries(gA, aBox, abcFill, abcStyle); ptSeries(gA, aOut, '#111', 5.5, 1); bracketSeries(gA, aBrackets);
const gB = addGrid({ l: 377.7, t: 12, w: 297, h: 240.3, x: [0.4, 3.6], y: [-2.9503, 1.0328], xt: [1, 2, 3], xf: catFmt(abcCats), yt: [-2, -1, 0, 1], yf: fmt(0) });
boxSeries(gB, bBox, abcFill, abcStyle); ptSeries(gB, bOut, '#111', 5.5, 1); bracketSeries(gB, bBrackets);
const gC = addGrid({ l: 721.7, t: 12, w: 289, h: 240.3, x: [0.4, 3.6], y: [-0.7335, 1.6387], xt: [1, 2, 3], xf: catFmt(abcCats), yt: [-0.5, 0, 0.5, 1, 1.5], yf: fmt(1) });
boxSeries(gC, cBox, abcFill, abcStyle); ptSeries(gC, cOut, '#111', 5.5, 1); bracketSeries(gC, cBrackets);
txt(17, 134, 'Coverage (log10)', { a: 'center', rot: Math.PI / 2 });
txt(353, 133, 'Mapping proportion (log10)', { a: 'center', rot: Math.PI / 2 });
txt(690, 134, 'Index of dispersion (log10)', { a: 'center', rot: Math.PI / 2 });

// ---- D ----
const vioCol = [BLUE, '#8C6D6C', '#9E8BA6'];
const gD = addGrid({ l: 41.3, t: 300, w: 296.7, h: 240.7, x: [0.4, 3.6], y: [-5.7577, -0.4559], xt: [1, 2, 3], xf: catFmt(dCats), yt: [-5, -4, -3, -2, -1], yf: fmt(0) });
series.push({ type: 'custom', xAxisIndex: gD, yAxisIndex: gD, z: 2, silent: true,
  data: dViolins.map((v, k) => [k + 1, dBox[k][2]]),
  renderItem: function (p, api) {
    const x = api.value(0), prof = dViolins[p.dataIndex];
    const left = prof.map(q => api.coord([x - q[1], q[0]]));
    const right = prof.slice().reverse().map(q => api.coord([x + q[1], q[0]]));
    return { type: 'polygon', shape: { points: left.concat(right), smooth: 0.25 }, style: { fill: vioCol[p.dataIndex] } };
  } });
boxSeries(gD, dBox, ['#ffffff'], { hw: 0.058, stroke: '#333', lw: 1, wc: '#333', wl: 1, mc: '#333', ml: 1.3, z: 3 });
txt(17, 423, 'Coverage (log10)', { a: 'center', rot: Math.PI / 2 });

// ---- E ----
const gE1 = addGrid({ l: 385.5, t: 300, w: 289.1, h: 252.3, x: [-0.1958, 0.0292], y: [-0.1072, 0.3214], xt: [-0.15, -0.1, -0.05, 0], xf: fmt(2), yt: [-0.1, 0, 0.1, 0.2, 0.3], yf: fmt(1), xfs: 10, yfs: 10 });
ptSeries(gE1, eL_paper, BLUE, 7.5, 0.7); ptSeries(gE1, eL_vdb, VDB, 7.5, 0.75); ptSeries(gE1, eL_mcc, '#A394B2', 7.5, 0.8); ptSeries(gE1, eL_facs, '#35C6C0', 7.5, 0.85); ptSeries(gE1, eL_blank, '#F5A623', 7.5, 0.9);
const gE2 = addGrid({ l: 721.7, t: 300, w: 289, h: 252.3, x: [-0.1034, 0.0870], y: [-0.5353, 0.0842], xt: [-0.1, -0.05, 0, 0.05], xf: fmt(2), yt: [-0.5, -0.4, -0.3, -0.2, -0.1, 0], yf: fmt(1), xfs: 10, yfs: 10 });
ptSeries(gE2, eR_paper, BLUE, 7.5, 0.7); ptSeries(gE2, eR_vdb, VDB, 7.5, 0.75); ptSeries(gE2, eR_mcc, '#A394B2', 7.5, 0.8); ptSeries(gE2, eR_facs, '#35C6C0', 7.5, 0.85); ptSeries(gE2, eR_blank, '#F5A623', 7.5, 0.9);
const legCol = ['#F5A623', '#35C6C0', '#5A6FA0', '#8E6E6D', '#A796B4'];
const legY = [323.3, 331.7, 340.7, 349.3, 358.3];
eLegend.forEach((s, k) => txt(399, legY[k], s, { fs: 7, c: legCol[k] }));
txt(530, 573.5, 'PC1 (18.37%)', { a: 'center', fs: 10 });
txt(866, 573.5, 'PC3 (1.25%)', { a: 'center', fs: 10 });
txt(353, 427, 'PC2 (2.8%)', { a: 'center', rot: Math.PI / 2, fs: 10 });
txt(689, 427, 'PC4 (0.87%)', { a: 'center', rot: Math.PI / 2, fs: 10 });

// ---- F, G ----
const fgY = [-0.6474, 1.1226], fgYt = [-0.5, 0, 0.5, 1];
const fgStyle = { hw: 0.375, stroke: '#3a3a3a', lw: 1.2, wc: '#555', wl: 1, mc: '#333', ml: 2.4 };
const gF = addGrid({ l: 50, t: 608.3, w: 154.7, h: 232.4, x: [0.4, 2.6], y: fgY, xt: [1, 2], xf: catFmt(fgCats), yt: fgYt, yf: fmt(1), xfs: 10, yfs: 10 });
boxSeries(gF, fBox, ['#96B2B8', '#E2C9C9'], fgStyle); ptSeries(gF, fOut, '#404040', 4.8, 1);
strip(50, 204.7, 589, 608.3, 'Diagnoses');
txt(17, 725, 'Index of dispersion (log10)', { a: 'center', rot: Math.PI / 2 });
const gLeft = [251.7, 404.5, 557.3, 710.1, 862.9], gCol = ['#1B9E77', '#D95F02', '#7570B3', '#E6AB02', '#666666'];
gTissues.forEach((t, k) => {
  const gi = addGrid({ l: gLeft[k], t: 608.3, w: 147.8, h: 232.4, x: [0.4, 2.6], y: fgY, xt: [1, 2], xf: catFmt(fgCats), yt: k === 0 ? fgYt : null, yf: fmt(1), yLine: k === 0, xfs: 10, yfs: 10 });
  boxSeries(gi, gBox[k], [gCol[k]], fgStyle); ptSeries(gi, gOut[k], '#404040', 4.8, 1);
  strip(gLeft[k], gLeft[k] + 147.8, 589, 608.3, t);
});
txt(218, 725, 'Index of dispersion (log10)', { a: 'center', rot: Math.PI / 2 });

// ---- H ----
const hY = [-0.6476, 1.1236];
const gH1 = addGrid({ l: 49.9, t: 896, w: 618.4, h: 232.3, x: [0.4, 13.6], y: hY, xt: range(13), xf: catFmt(hADcats), yt: fgYt, yf: fmt(1), xfs: 10, yfs: 10 });
boxSeries(gH1, hADbox, ['#96B2B8'], fgStyle); ptSeries(gH1, hADout, '#404040', 4.8, 1);
const gH2 = addGrid({ l: 673.6, t: 896, w: 337.2, h: 232.3, x: [0.4, 7.6], y: hY, xt: range(7), xf: catFmt(hCcats), yLine: false, xfs: 10 });
boxSeries(gH2, hCbox, ['#E2C9C9'], fgStyle); ptSeries(gH2, hCout, '#404040', 4.8, 1);
strip(49.9, 668.3, 877.3, 896, 'AD');
strip(673.6, 1010.8, 877.3, 896, 'Control');
txt(17, 1012, 'Index of dispersion (log10)', { a: 'center', rot: Math.PI / 2 });

// ---- I ----
const iCol = [BLUE, BLUE, BLUE, VDB, MCC];
const iLight = ['#A3B1CC', '#A3B1CC', '#A3B1CC', '#CDBDBC', '#D3CCDA'];
function jit(i) { const f = (i * 0.6180339887) % 1; return 0.8 * (f - 0.5); }
function iRow(cfg) {
  cfg.vals.forEach((vals, k) => {
    const yr = k === 0 ? cfg.y0 : cfg.y1;
    const gi = addGrid({ l: cfg.left[k], t: cfg.top, w: cfg.w[k], h: cfg.h, x: [0.4, 1.6], y: yr,
      yt: k === 0 ? cfg.yt0 : (k === 1 ? cfg.yt1 : null), yf: k === 0 ? fmt(0) : fmt(cfg.d1), yLine: k < 2, yfs: cfg.yfs });
    boxSeries(gi, [cfg.box[k]], ['rgba(255,255,255,0)'], { hw: 0.5, stroke: iLight[k], lw: 1, wc: iLight[k], wl: 1, mc: iLight[k], ml: 1, z: 2 });
    ptSeries(gi, vals.map((v, i) => [1 + jit(i), v]), iCol[k], 7.5, 0.62, 3);
    strip(cfg.left[k], cfg.left[k] + cfg.w[k], cfg.st0, cfg.st1, iTitles[k], cfg.sfs);
    cfg.stats[k].forEach((s, j) => txt(cfg.sx[k], cfg.sy[j] + (k === 4 ? cfg.s5 : 0), s, { fs: 6.8, c: '#333' }));
  });
}
iRow({ vals: cn1, box: cn1Box, stats: cn1Stats, top: 1187.3, h: 104.7, left: [46, 274, 458.3, 643.3, 827.7], w: [182, 180, 180, 179, 180],
  y0: [-0.694, 13.847], y1: [1.4459, 2.514], yt0: [0, 5, 10], yt1: [1.5, 1.75, 2, 2.25, 2.5], d1: 2, yfs: 10.5,
  st0: 1169.3, st1: 1187.3, sfs: 10.2, sx: [49.3, 277.3, 463.3, 646, 822.7], sy: [1194, 1202.7, 1212.3, 1220], s5: 1.5 });
iRow({ vals: cn21, box: cn21Box, stats: cn21Stats, top: 1329, h: 107, left: [46, 271, 456, 641, 826.5], w: [182.3, 180.5, 180.5, 180.4, 180.5],
  y0: [-1.26, 25.69], y1: [1.0863, 3.0938], yt0: [0, 5, 10, 15, 20, 25], yt1: [1.5, 2, 2.5, 3], d1: 1, yfs: 10,
  st0: 1314.3, st1: 1329, sfs: 9.8, sx: [49.7, 274.2, 459.2, 644.1, 830.4], sy: [1339, 1346.7, 1355.7, 1364.3], s5: 0 });
txt(22, 1240, 'Median CN of Chr 1', { a: 'center', rot: Math.PI / 2, fs: 10.5 });
txt(22, 1385, 'Median CN of Chr 21', { a: 'center', rot: Math.PI / 2, fs: 10.5 });

// ---- panel letters ----
[['A', 15, 17], ['B', 352.7, 17], ['C', 689.3, 17], ['D', 15, 305], ['E', 351.8, 305], ['F', 15, 592.5], ['G', 218.3, 592.5], ['H', 16, 881], ['I', 11.7, 1168.3]]
  .forEach(l => txt(l[1], l[2], l[0], { b: true, fs: 11, a: 'center', c: '#000' }));

const chart = echarts.init(document.getElementById('c'), null, { renderer: 'canvas' });
chart.setOption({ animation: false, backgroundColor: '#fff', grid: grids, xAxis: xAxes, yAxis: yAxes, series: series, graphic: { elements: graphics } });
</script></body></html>
